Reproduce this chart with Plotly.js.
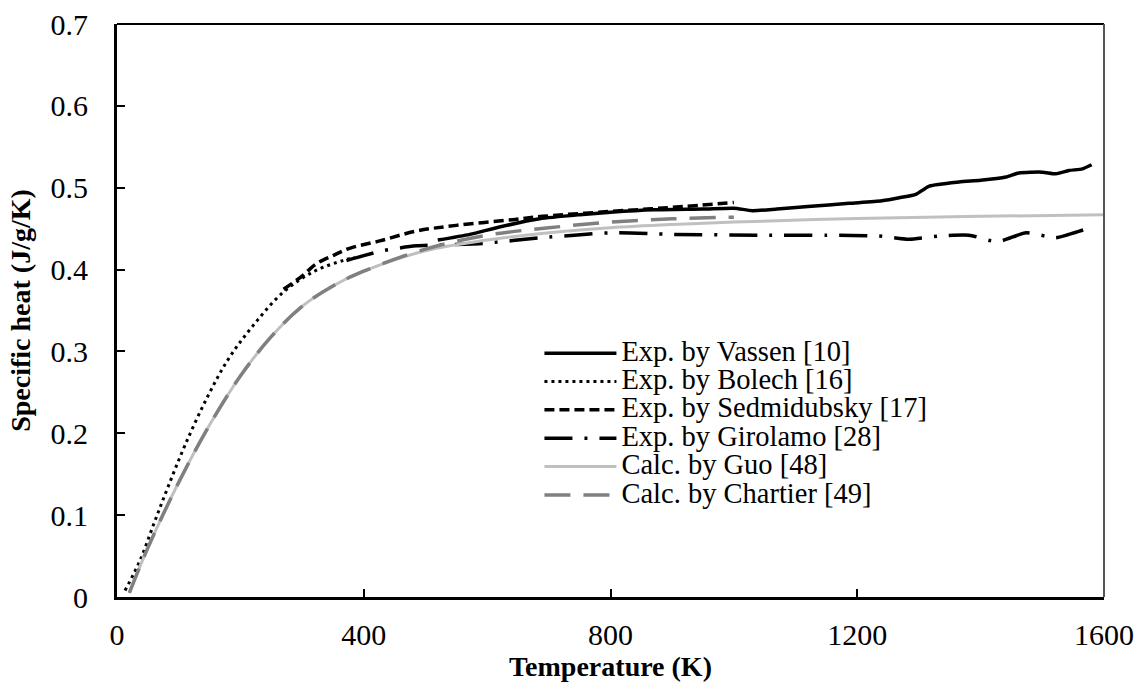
<!DOCTYPE html>
<html>
<head>
<meta charset="utf-8">
<script src="https://cdn.plot.ly/plotly-3.0.1.min.js"></script>
<style>html,body{margin:0;padding:0;background:#fff;}#chart{width:1138px;height:687px;}</style>
</head>
<body>
<div id="chart"></div>
<script>
// Data (Temperature K, specific heat J/g/K)
const vassenT = [520, 572, 620, 685, 750, 800, 870, 950, 1000, 1030, 1070, 1120, 1187, 1240, 1270, 1295, 1317, 1365, 1400, 1441, 1462, 1500, 1522, 1543, 1565, 1580];
const vassenCp = [0.436, 0.443, 0.452, 0.462, 0.467, 0.470, 0.473, 0.474, 0.475, 0.472, 0.474, 0.477, 0.481, 0.484, 0.488, 0.492, 0.502, 0.507, 0.509, 0.513, 0.518, 0.519, 0.517, 0.521, 0.523, 0.528];

const bolechT = [13, 37, 60, 83, 110, 145, 180, 220, 269, 320, 366, 385];
const bolechCp = [0.008, 0.044, 0.09, 0.135, 0.185, 0.242, 0.29, 0.331, 0.372, 0.398, 0.411, 0.415];

const sedmiT = [270, 300, 323, 350, 377, 426, 485, 550, 642, 690, 800, 900, 1000];
const sedmiCp = [0.376, 0.392, 0.407, 0.417, 0.426, 0.435, 0.447, 0.454, 0.461, 0.465, 0.471, 0.476, 0.482];

const giroT = [372, 400, 431, 485, 593, 690, 803, 900, 1046, 1150, 1235, 1284, 1333, 1381, 1427, 1474, 1522, 1569, 1580];
const giroCp = [0.411, 0.417, 0.423, 0.429, 0.432, 0.439, 0.445, 0.443, 0.442, 0.442, 0.441, 0.437, 0.441, 0.442, 0.434, 0.445, 0.439, 0.449, 0.451];

const guoT = [20, 50, 100, 150, 200, 250, 300, 350, 400, 500, 600, 700, 800, 900, 1000, 1200, 1400, 1600];
const guoCp = [0.005, 0.06, 0.14, 0.21, 0.27, 0.318, 0.355, 0.38, 0.398, 0.423, 0.436, 0.445, 0.451, 0.455, 0.458, 0.4625, 0.465, 0.467];

const chartierT = [20, 50, 100, 150, 200, 250, 300, 350, 400, 500, 600, 700, 800, 900, 1000];
const chartierCp = [0.005, 0.06, 0.14, 0.21, 0.27, 0.318, 0.355, 0.38, 0.398, 0.425, 0.442, 0.451, 0.458, 0.462, 0.464];

const names = ["Exp. by Vassen [10]", "Exp. by Bolech [16]", "Exp. by Sedmidubsky [17]", "Exp. by Girolamo [28]", "Calc. by Guo [48]", "Calc. by Chartier [49]"];
const xTicks = [0, 400, 800, 1200, 1600];
const yTicks = [0, 0.1, 0.2, 0.3, 0.4, 0.5, 0.6, 0.7];

const legendName = n => '<span style="font-size:28.5px">' + n + '</span>';

const traces = [
  {x: vassenT, y: vassenCp, name: legendName(names[0]), line: {color: '#000', width: 3.5, shape: 'spline', smoothing: 0.6}},
  {x: bolechT, y: bolechCp, name: legendName(names[1]), line: {color: '#000', width: 3, dash: '3px,4px', shape: 'spline'}},
  {x: sedmiT, y: sedmiCp, name: legendName(names[2]), line: {color: '#000', width: 3.5, dash: '10px,5px', shape: 'spline'}},
  {x: giroT, y: giroCp, name: legendName(names[3]), line: {color: '#000', width: 3.5, dash: '28px,12px,3px,12px', shape: 'spline', smoothing: 0.6}},
  {x: guoT, y: guoCp, name: legendName(names[4]), line: {color: '#c0c0c0', width: 3, shape: 'spline'}},
  {x: chartierT, y: chartierCp, name: legendName(names[5]), line: {color: '#808080', width: 3.5, dash: '26px,13px', shape: 'spline'}}
].map(t => Object.assign({type: 'scatter', mode: 'lines', hoverinfo: 'skip'}, t));

const fontFam = 'Liberation Serif, Times New Roman, serif';

const layout = {
  width: 1138, height: 687,
  margin: {l: 117, r: 34, t: 24, b: 90},
  paper_bgcolor: '#fff', plot_bgcolor: '#fff',
  font: {family: fontFam, size: 28, color: '#000'},
  showlegend: true,
  legend: {
    x: 0.428, y: 0.459, xanchor: 'left', yanchor: 'top',
    bgcolor: 'rgba(0,0,0,0)', borderwidth: 0,
    font: {family: fontFam, size: 19.5, color: '#000'},
    itemwidth: 72, tracegroupgap: 0
  },
  xaxis: {
    range: [0, 1600], tickvals: xTicks, ticktext: xTicks.map(String),
    showgrid: false, zeroline: false,
    showline: true, linecolor: '#000', linewidth: 3,
    ticks: 'inside', ticklen: 8, tickwidth: 2, tickcolor: '#000',
    tickfont: {family: fontFam, size: 30},
    ticklabelstandoff: 9,
    title: {text: '<b>Temperature (K)</b>', font: {family: fontFam, size: 28}, standoff: 3}
  },
  yaxis: {
    range: [0, 0.7], tickvals: yTicks, ticktext: yTicks.map(v => v === 0 ? '0' : v.toFixed(1)),
    showgrid: false, zeroline: false,
    showline: true, linecolor: '#000', linewidth: 3,
    ticks: 'inside', ticklen: 8, tickwidth: 2, tickcolor: '#000',
    tickfont: {family: fontFam, size: 30},
    ticklabelstandoff: 20,
    title: {text: '<b>Specific heat (J/g/K)</b>', font: {family: fontFam, size: 28}, standoff: 12}
  },
  shapes: [
    {type: 'line', xref: 'paper', yref: 'paper', x0: 0, x1: 1, y0: 1, y1: 1, line: {color: '#000', width: 2}},
    {type: 'line', xref: 'paper', yref: 'paper', x0: 1, x1: 1, y0: 0, y1: 1, line: {color: '#555', width: 2}}
  ]
};

Plotly.newPlot('chart', traces, layout, {displayModeBar: false, staticPlot: true});
</script>
</body>
</html>
